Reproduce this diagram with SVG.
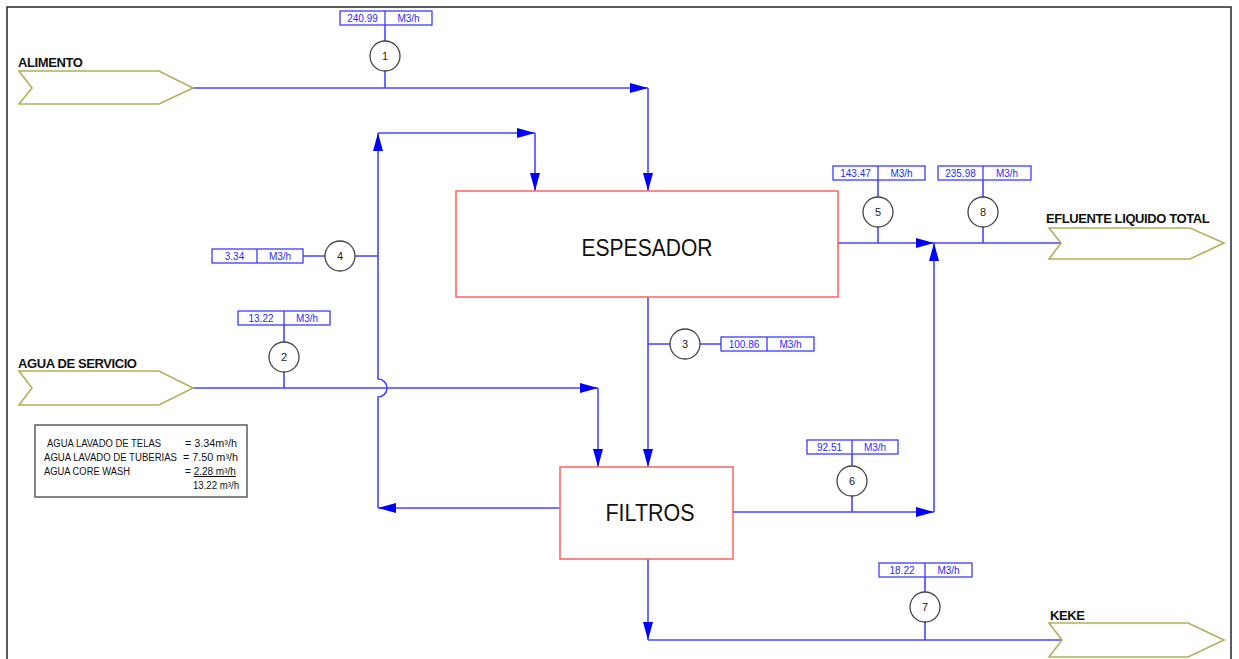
<svg xmlns="http://www.w3.org/2000/svg" width="1239" height="659" viewBox="0 0 1239 659">
<style>
.frame{fill:none;stroke:#333;stroke-width:1.6}
.flow{fill:none;stroke:#4646ff;stroke-width:1.6}
.ext{fill:#fff;stroke:#b4ae5c;stroke-width:1.6}
.unit{fill:#fff;stroke:#ff6a6a;stroke-width:1.6}
.tag{fill:#fff;stroke:#444;stroke-width:1.3}
.lbl{fill:#fff;stroke:#3c3cff;stroke-width:1.3}
.lt{font-family:"Liberation Sans",Arial,sans-serif;font-size:10px;fill:#2a2aff;text-anchor:middle}
.tt{font-family:"Liberation Sans",Arial,sans-serif;font-size:11px;fill:#222;text-anchor:middle}
.et{font-family:"Liberation Sans",Arial,sans-serif;font-size:13px;font-weight:bold;fill:#111;letter-spacing:-0.4px}
.ut{font-family:"Liberation Sans",Arial,sans-serif;font-size:24px;fill:#111;text-anchor:middle}
.leg{font-family:"Liberation Sans",Arial,sans-serif;font-size:10px;fill:#111}
</style>
<defs>
<marker id="ah" markerUnits="userSpaceOnUse" markerWidth="18" markerHeight="10" refX="18" refY="5" orient="auto">
<path d="M0,0 L18,5 L0,10 z" fill="#0000ff"/>
</marker>
</defs>
<rect width="1239" height="659" fill="#fff"/>
<rect class="frame" x="7" y="7" width="1224" height="700"/>

<g id="connectors">
<path class="flow" d="M193,88 H648" marker-end="url(#ah)"/>
<path class="flow" d="M648,88 V191" marker-end="url(#ah)"/>
<path class="flow" d="M385,25 V41 M385,71 V88"/>
<path class="flow" d="M560,508 H378" marker-end="url(#ah)"/>
<path class="flow" d="M378,508 V397 A9,9 0 0 0 378,379 V133" marker-end="url(#ah)"/>
<path class="flow" d="M378,133 H535" marker-end="url(#ah)"/>
<path class="flow" d="M535,133 V191" marker-end="url(#ah)"/>
<path class="flow" d="M303,256 H325 M355,256 H378"/>
<path class="flow" d="M193,388 H598" marker-end="url(#ah)"/>
<path class="flow" d="M598,388 V467" marker-end="url(#ah)"/>
<path class="flow" d="M284,325 V342 M284,372 V388"/>
<path class="flow" d="M648,297 V467" marker-end="url(#ah)"/>
<path class="flow" d="M648,344 H670 M700,344 H721"/>
<path class="flow" d="M838,243 H934" marker-end="url(#ah)"/>
<path class="flow" d="M934,243 H1061"/>
<path class="flow" d="M878,180 V197 M878,227 V243"/>
<path class="flow" d="M983,180 V197 M983,227 V243"/>
<path class="flow" d="M733,512 H934" marker-end="url(#ah)"/>
<path class="flow" d="M934,512 V243" marker-end="url(#ah)"/>
<path class="flow" d="M852,454 V466 M852,496 V512"/>
<path class="flow" d="M648,559 V640" marker-end="url(#ah)"/>
<path class="flow" d="M648,640 H1062"/>
<path class="flow" d="M925,577 V592 M925,622 V640"/>
</g>

<g id="alimento">
<polygon class="ext" points="19,71 159,71 193,88 159,104 19,104 32,88"/>
<text class="et" x="18" y="67">ALIMENTO</text>
</g>
<g id="agua-servicio">
<polygon class="ext" points="19,371 159,371 193,388 159,405 19,405 32,388"/>
<text class="et" x="18" y="368">AGUA DE SERVICIO</text>
</g>
<g id="efluente">
<polygon class="ext" points="1049,228 1190,228 1224,243 1190,259 1049,259 1061,243"/>
<text class="et" x="1046" y="223">EFLUENTE LIQUIDO TOTAL</text>
</g>
<g id="keke">
<polygon class="ext" points="1049,623 1188,623 1224,640 1188,657 1049,657 1062,640"/>
<text class="et" x="1050" y="620">KEKE</text>
</g>

<g id="espesador">
<rect class="unit" x="456" y="191" width="382" height="106"/>
<text class="ut" x="647" y="256" textLength="131" lengthAdjust="spacingAndGlyphs">ESPESADOR</text>
</g>
<g id="filtros">
<rect class="unit" x="560" y="467" width="173" height="92"/>
<text class="ut" x="650" y="521" textLength="89" lengthAdjust="spacingAndGlyphs">FILTROS</text>
</g>

<g id="stream1">
<rect class="lbl" x="340" y="11" width="92" height="14"/><line class="lbl" x1="385" y1="11" x2="385" y2="25"/>
<text class="lt" x="362.5" y="22">240.99</text><text class="lt" x="408.5" y="22">M3/h</text>
<circle class="tag" cx="385" cy="56" r="15"/><text class="tt" x="385" y="60">1</text>
</g>
<g id="stream2">
<rect class="lbl" x="238" y="311" width="92" height="14"/><line class="lbl" x1="284" y1="311" x2="284" y2="325"/>
<text class="lt" x="261" y="322">13.22</text><text class="lt" x="307" y="322">M3/h</text>
<circle class="tag" cx="284" cy="357" r="15"/><text class="tt" x="284" y="361">2</text>
</g>
<g id="stream3">
<circle class="tag" cx="685" cy="344" r="15"/><text class="tt" x="685" y="348">3</text>
<rect class="lbl" x="721" y="337" width="93" height="14"/><line class="lbl" x1="767" y1="337" x2="767" y2="351"/>
<text class="lt" x="744" y="348">100.86</text><text class="lt" x="790.5" y="348">M3/h</text>
</g>
<g id="stream4">
<rect class="lbl" x="212" y="249" width="91" height="14"/><line class="lbl" x1="257" y1="249" x2="257" y2="263"/>
<text class="lt" x="234.5" y="260">3.34</text><text class="lt" x="280" y="260">M3/h</text>
<circle class="tag" cx="340" cy="256" r="15"/><text class="tt" x="340" y="260">4</text>
</g>
<g id="stream5">
<rect class="lbl" x="833" y="166" width="92" height="14"/><line class="lbl" x1="878" y1="166" x2="878" y2="180"/>
<text class="lt" x="855.5" y="177">143.47</text><text class="lt" x="901.5" y="177">M3/h</text>
<circle class="tag" cx="878" cy="212" r="15"/><text class="tt" x="878" y="216">5</text>
</g>
<g id="stream6">
<rect class="lbl" x="807" y="440" width="91" height="14"/><line class="lbl" x1="852" y1="440" x2="852" y2="454"/>
<text class="lt" x="829.5" y="451">92.51</text><text class="lt" x="875" y="451">M3/h</text>
<circle class="tag" cx="852" cy="481" r="15"/><text class="tt" x="852" y="485">6</text>
</g>
<g id="stream7">
<rect class="lbl" x="879" y="563" width="93" height="14"/><line class="lbl" x1="925" y1="563" x2="925" y2="577"/>
<text class="lt" x="902" y="574">18.22</text><text class="lt" x="948.5" y="574">M3/h</text>
<circle class="tag" cx="925" cy="607" r="15"/><text class="tt" x="925" y="611">7</text>
</g>
<g id="stream8">
<rect class="lbl" x="938" y="166" width="93" height="14"/><line class="lbl" x1="983" y1="166" x2="983" y2="180"/>
<text class="lt" x="960.5" y="177">235.98</text><text class="lt" x="1007" y="177">M3/h</text>
<circle class="tag" cx="983" cy="212" r="15"/><text class="tt" x="983" y="216">8</text>
</g>

<g id="legend">
<rect x="35" y="425" width="212" height="72" fill="#fff" stroke="#444" stroke-width="1.3"/>
<text class="leg" x="47" y="447" textLength="114" lengthAdjust="spacingAndGlyphs">AGUA LAVADO DE TELAS</text>
<text class="leg" x="185" y="447" textLength="52" lengthAdjust="spacingAndGlyphs">= 3.34m³/h</text>
<text class="leg" x="44" y="461" textLength="133" lengthAdjust="spacingAndGlyphs">AGUA LAVADO DE TUBERIAS</text>
<text class="leg" x="183" y="461" textLength="55" lengthAdjust="spacingAndGlyphs">= 7.50 m³/h</text>
<text class="leg" x="44" y="475" textLength="86" lengthAdjust="spacingAndGlyphs">AGUA CORE WASH</text>
<text class="leg" x="185" y="475">= <tspan text-decoration="underline">2.28 m³/h</tspan></text>
<text class="leg" x="193" y="489" textLength="46" lengthAdjust="spacingAndGlyphs">13.22 m³/h</text>
</g>
</svg>
